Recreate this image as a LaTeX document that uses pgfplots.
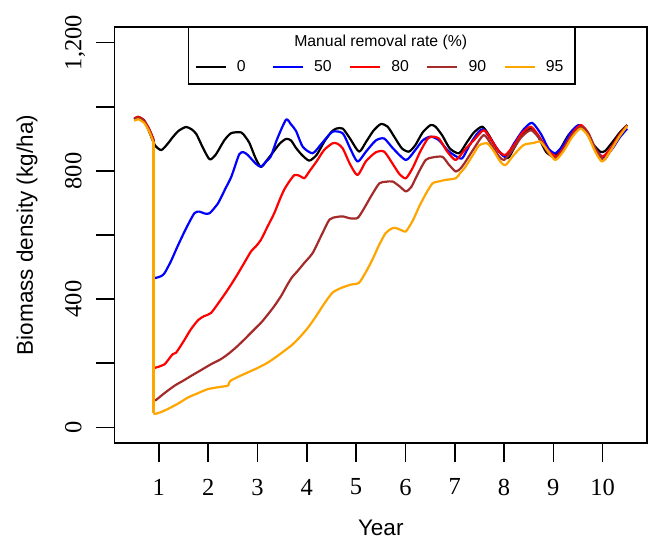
\documentclass[border=0pt]{standalone}
\usepackage{fontspec}
\setmainfont{Liberation Serif}
\newfontfamily\arial{Liberation Sans}
\usepackage{pgfplots}
\pgfplotsset{compat=1.18}
\definecolor{rbrown}{HTML}{A52A2A}
\definecolor{rorange}{HTML}{FFA500}
\definecolor{rblue}{HTML}{0000FF}
\definecolor{rred}{HTML}{FF0000}

\pgfplotstableread{
x y
0.50 962
0.58 968
0.70 958
0.81 920
0.92 880
1.05 865
1.18 885
1.28 905
1.40 925
1.55 937
1.66 930
1.76 915
1.90 870
2.03 836
2.15 850
2.33 896
2.47 918
2.67 920
2.76 905
2.84 886
2.96 840
3.07 812
3.20 835
3.31 857
3.45 885
3.58 900
3.68 895
3.78 872
3.90 850
4.05 832
4.20 850
4.35 890
4.50 922
4.60 932
4.73 932
4.88 900
5.06 860
5.20 890
5.35 925
5.50 946
5.64 938
5.80 900
5.93 870
6.07 860
6.20 880
6.35 920
6.51 943
6.61 938
6.75 910
6.90 870
7.09 855
7.25 890
7.39 920
7.56 938
7.70 910
7.85 870
8.07 840
8.20 870
8.35 910
8.54 932
8.70 905
8.85 860
9.01 845
9.15 870
9.30 910
9.52 943
9.65 925
9.80 885
9.95 860
10.05 862
10.20 890
10.35 920
10.50 943
}\tblack

\pgfplotstableread{
x y
0.89 470
0.93 466
1.05 472
1.12 482
1.25 520
1.38 565
1.55 620
1.72 668
1.82 673
1.93 667
2.03 668
2.20 699
2.35 745
2.47 782
2.63 852
2.72 858
2.80 850
2.97 822
3.07 813
3.18 830
3.27 845
3.40 900
3.58 960
3.68 945
3.78 925
3.92 875
4.12 855
4.30 885
4.52 922
4.73 917
4.88 870
5.03 829
5.20 860
5.40 895
5.57 901
5.75 870
6.01 834
6.20 865
6.35 895
6.51 907
6.68 896
6.85 865
7.00 848
7.15 839
7.30 880
7.45 915
7.58 930
7.75 895
7.90 860
8.04 844
8.20 885
8.40 930
8.57 950
8.75 915
8.90 870
9.04 855
9.20 880
9.35 920
9.52 943
9.70 915
9.85 870
10.02 842
10.20 870
10.35 905
10.50 932
}\tblue

\pgfplotstableread{
x y
0.89 188
0.93 186
1.05 192
1.12 197
1.28 228
1.35 233
1.50 268
1.65 306
1.80 335
1.92 347
2.06 357
2.26 399
2.40 430
2.57 471
2.72 510
2.87 549
2.97 565
3.07 585
3.20 625
3.34 668
3.45 710
3.54 741
3.65 768
3.75 787
3.85 785
3.95 777
4.05 798
4.20 830
4.35 865
4.52 886
4.62 885
4.73 870
4.88 820
5.03 787
5.20 830
5.40 858
5.57 860
5.75 820
5.88 790
6.01 777
6.15 810
6.30 860
6.45 900
6.55 907
6.68 901
6.85 860
7.02 834
7.20 865
7.39 896
7.59 927
7.75 895
7.90 860
8.03 850
8.20 880
8.35 915
8.54 938
8.70 910
8.90 862
9.06 846
9.20 870
9.40 920
9.56 943
9.70 920
9.85 870
9.99 844
10.15 868
10.35 915
10.50 943
}\tred

\pgfplotstableread{
x y
0.89 85
0.93 84
1.10 105
1.32 130
1.50 146
1.66 161
1.85 178
2.06 197
2.25 212
2.40 228
2.57 250
2.74 275
2.90 300
3.07 326
3.20 350
3.34 378
3.48 410
3.61 446
3.70 468
3.81 487
3.95 513
4.12 544
4.30 600
4.46 648
4.60 656
4.73 658
4.88 652
5.03 653
5.15 680
5.30 720
5.47 761
5.60 766
5.74 767
5.88 752
6.01 736
6.12 750
6.25 790
6.41 834
6.55 842
6.75 844
6.88 820
7.02 798
7.12 808
7.22 829
7.39 870
7.59 912
7.75 880
7.90 845
8.00 834
8.15 860
8.35 905
8.54 927
8.70 905
8.90 855
9.06 840
9.20 865
9.40 915
9.58 938
9.72 915
9.85 870
10.02 834
10.15 860
10.35 910
10.50 943
}\tbrown

\pgfplotstableread{
x y
0.89 44
0.93 42
1.05 48
1.18 57
1.40 75
1.59 93
1.80 107
1.99 119
2.20 125
2.40 130
2.42 138
2.45 145
2.60 157
2.80 171
3.00 185
3.21 202
3.40 222
3.54 238
3.70 257
3.85 280
4.02 310
4.19 347
4.35 385
4.52 420
4.70 435
4.89 445
5.06 451
5.20 485
5.33 523
5.47 570
5.60 606
5.72 620
5.80 622
5.92 615
6.01 611
6.15 645
6.28 689
6.42 730
6.55 761
6.70 768
6.82 772
7.02 777
7.12 795
7.22 813
7.39 855
7.50 880
7.66 886
7.80 860
7.92 830
8.03 818
8.20 850
8.40 881
8.60 887
8.74 891
8.90 860
9.04 834
9.20 860
9.38 905
9.55 932
9.70 910
9.85 860
9.99 829
10.15 860
10.35 910
10.50 940
}\torange

\begin{document}
\begin{tikzpicture}
\begin{axis}[
  scale only axis, width=532.5bp, height=415.4bp,
  xmin=0.1, xmax=10.9, ymin=-48, ymax=1248,
  axis line style={line width=1.6bp},
  tick style={line width=1.6bp, black},
  tick align=outside, major tick length=19bp,
  xtick pos=bottom, ytick pos=left,
  xtick={1,2,3,4,5,6,7,8,9,10},
  xticklabels={1,2,3,4,5,6,7,8,9,10},
  ytick={0,200,400,600,800,1000,1200},
  yticklabels={0,,400,,800,,{1,200}},
  tick label style={font=\fontsize{24.5bp}{26bp}\selectfont, inner sep=0pt},
  xticklabel style={anchor=north, yshift=-17bp},
  yticklabel style={xshift=-14bp, rotate=90, anchor=base},
  every axis x label/.style={at={(rel axis cs:0.5,0)}, anchor=center, yshift=-85.3bp},
  every axis y label/.style={at={(rel axis cs:0,0.5)}, xshift=-87.5bp, rotate=90, anchor=center},
  label style={font=\arial\fontsize{22.5bp}{24bp}\selectfont},
  xlabel={Year},
  ylabel={Biomass density (kg/ha)},
  every axis plot/.append style={line width=2.2bp, line join=round},
  legend image code/.code={\draw[#1] (0bp,0bp) -- (30bp,0bp);},
  legend style={at={(rel axis cs:0.5,0.9052)}, anchor=center, draw=none, fill=none,
    inner sep=0pt, font=\arial\fontsize{15.8bp}{18bp}\selectfont,
    nodes={inner sep=0pt},
    /tikz/every odd column/.append style={column sep=10bp},
    /tikz/every even column/.append style={column sep=14bp}},
  legend columns=5,
  clip=true,
]
% 0 %
\addplot[black, smooth, tension=0.4] table {\tblack};
\addlegendentry{\makebox[21bp][l]{0}}
% 50 %
\addplot[rblue, smooth, tension=0.4] table {\tblue};
\addlegendentry{\makebox[21bp][l]{50}}
\addplot[rblue, smooth, tension=0.4, forget plot] coordinates {(0.50,962) (0.58,966) (0.70,955) (0.80,930) (0.89,898)};
\addplot[rblue, sharp plot, forget plot] coordinates {(0.89,898) (0.89,470)};
% 80 %
\addplot[rred, smooth, tension=0.4] table {\tred};
\addlegendentry{\makebox[21bp][l]{80}}
\addplot[rred, smooth, tension=0.4, forget plot] coordinates {(0.50,963) (0.58,969) (0.70,957) (0.80,932) (0.89,900)};
\addplot[rred, sharp plot, forget plot] coordinates {(0.89,900) (0.89,188)};
% 90 %
\addplot[rbrown, smooth, tension=0.4] table {\tbrown};
\addlegendentry{\makebox[21bp][l]{90}}
\addplot[rbrown, smooth, tension=0.4, forget plot] coordinates {(0.50,961) (0.58,966) (0.70,955) (0.80,929) (0.89,896)};
\addplot[rbrown, sharp plot, forget plot] coordinates {(0.89,896) (0.89,85)};
% 95 %
\addplot[rorange, smooth, tension=0.4] table {\torange};
\addlegendentry{\makebox[21bp][l]{95}}
\addplot[rorange, smooth, tension=0.4, forget plot] coordinates {(0.50,956) (0.58,961) (0.70,950) (0.80,924) (0.89,890)};
\addplot[rorange, sharp plot, forget plot] coordinates {(0.89,890) (0.89,44)};
\draw[line width=1.6bp, black] (rel axis cs:0.1386,1) rectangle (rel axis cs:0.8648,0.8635);
\node[font=\arial\fontsize{15.8bp}{18bp}\selectfont, anchor=center] at (rel axis cs:0.5,0.964) {Manual removal rate (\%)};
\coordinate (SW) at (rel axis cs:0,0);
\end{axis}
\pgfresetboundingbox
\path (SW) ++(-114.5bp,-99.3bp) rectangle ++(652bp,542bp);
\end{tikzpicture}
\end{document}
